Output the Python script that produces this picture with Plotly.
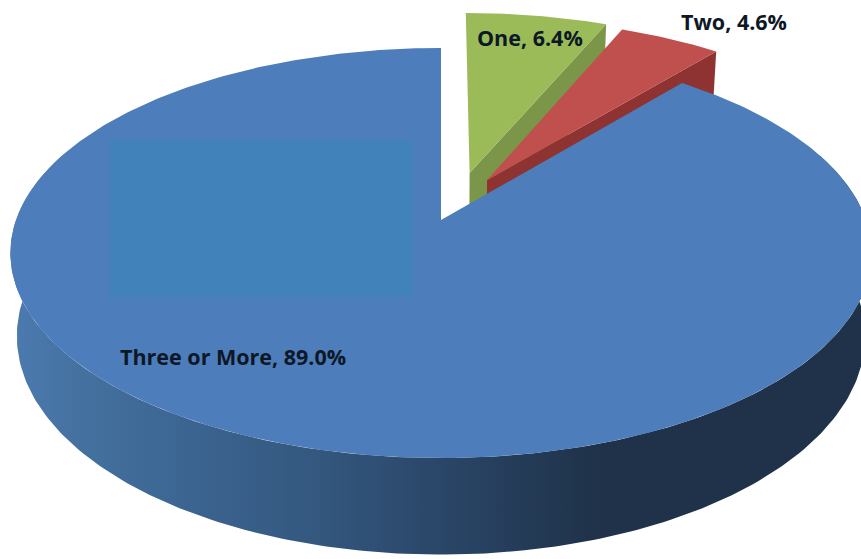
import numpy as np
import plotly.graph_objects as go

categories = ["One", "Two", "Three or More"]
shares = [6.4, 4.6, 89.0]
face_colors = ["#9bbb59", "#c0504d", "#4d7dbb"]
wall_colors = ["#7b9648", "#8e3331", "#2a4668"]
explode_xy = [(0.07, 0.2445), (0.112, 0.2066), (0.0, 0.0)]
label_px = [(530, 37), (734, 21), (233, 356)]

W, H = 861, 559
CX, CY, A, B, P, DEPTH = 441, 220, 425, 199.7, 0.161, 81


def project(X, Y, low=False):
    d = 1 + P * Y
    sc = 0.985 if low else 1.0
    return CX + sc * A * X / d, CY - (B * Y - (DEPTH if low else 0)) / d


edges = np.cumsum([0] + shares) * 3.6
fig = go.Figure()


def poly(x, y, color, gradient=None):
    kw = dict(x=np.r_[x, x[0]], y=np.r_[y, y[0]], mode="lines", fill="toself",
              line=dict(width=0), hoverinfo="skip", showlegend=False)
    if gradient:
        kw["fillgradient"] = dict(type="horizontal", colorscale=gradient)
    else:
        kw["fillcolor"] = color
    fig.add_trace(go.Scatter(**kw))


for i in range(2):
    t = np.radians(np.linspace(edges[i], edges[i + 1], 60))
    ex, ey = explode_xy[i]
    Xr, Yr = np.sin(t) + ex, np.cos(t) + ey
    end = t[-1]
    Xw = np.array([ex, np.sin(end) + ex])
    Yw = np.array([ey, np.cos(end) + ey])
    xt, yt = project(Xw, Yw)
    xl, yl = project(Xw, Yw, low=True)
    poly(np.r_[xt, xl[::-1]], np.r_[yt, yl[::-1]], wall_colors[i])
    x, y = project(np.r_[ex, Xr], np.r_[ey, Yr])
    poly(x, y, face_colors[i])

# Large slice: outer wall then top face
wt = np.radians(np.linspace(70, 290, 240))
xt, yt = project(np.sin(wt), np.cos(wt))
xl, yl = project(np.sin(wt), np.cos(wt), low=True)
poly(np.r_[xt, xl[::-1]], np.r_[yt, yl[::-1]], None, gradient=[
    [0.0, "#4c7bb2"], [0.08, "#44719f"], [0.2, "#3c6592"], [0.35, "#34587f"],
    [0.5, "#2a4668"], [0.68, "#1f3249"], [1.0, "#1f3249"]])

t = np.radians(np.linspace(edges[2], edges[3], 400))
x, y = project(np.r_[0, np.sin(t)], np.r_[0, np.cos(t)])
poly(x, y, face_colors[2])

fig.add_shape(type="rect", x0=110, x1=413, y0=140, y1=297, layer="above",
              fillcolor="#4282ba", line_width=0)

for c, s, (lx, ly) in zip(categories, shares, label_px):
    fig.add_annotation(x=lx, y=ly, text=f"{c}, {s:.1f}%", showarrow=False,
                       font=dict(family="Open Sans", size=21.5, color="#0d1826", weight=700))

fig.update_xaxes(range=[0, W], visible=False, fixedrange=True)
fig.update_yaxes(range=[H, 0], visible=False, fixedrange=True)
fig.update_layout(width=W, height=H, margin=dict(l=0, r=0, t=0, b=0),
                  paper_bgcolor="white", plot_bgcolor="white", showlegend=False)
fig.write_html("out.html", config=dict(displayModeBar=False),
               post_script="document.body.style.margin='0';document.body.style.overflow='hidden';")
